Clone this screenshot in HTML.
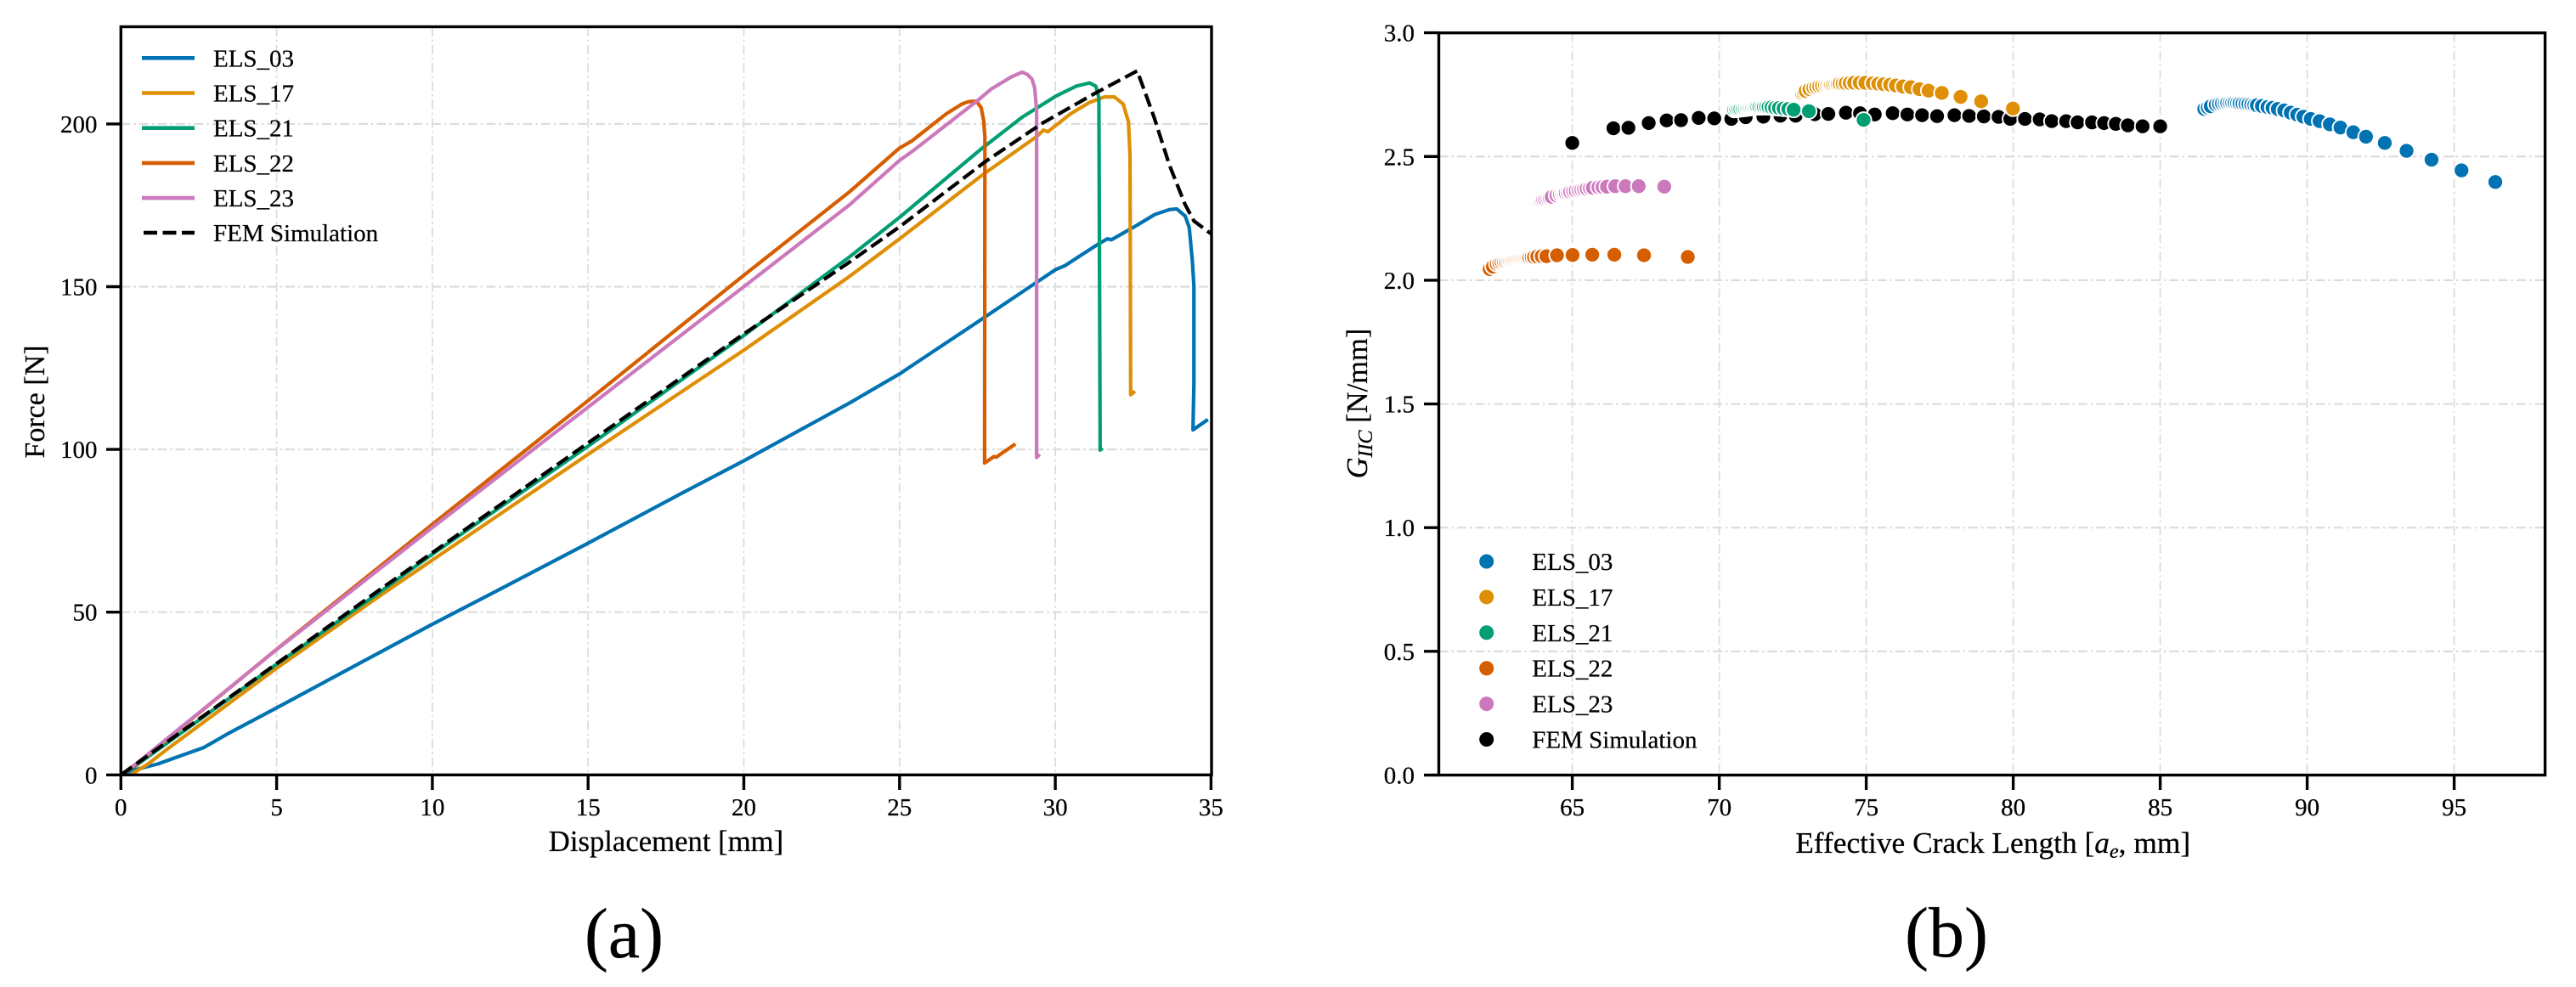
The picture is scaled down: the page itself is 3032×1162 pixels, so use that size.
<!DOCTYPE html>
<html>
<head>
<meta charset="utf-8">
<title>ELS force-displacement and fracture toughness</title>
<style>
html,body{margin:0;padding:0;background:#fff;}
svg{display:block;}
text{font-family:"Liberation Serif",serif;fill:#000;stroke:#000;stroke-width:0.25px;}
</style>
</head>
<body>
<svg id="fig" xmlns="http://www.w3.org/2000/svg" width="3032" height="1162" viewBox="0 0 3032 1162">
<rect x="0" y="0" width="3032" height="1162" fill="#fff"/>
<defs>
<clipPath id="clipA"><rect x="142.3" y="31.5" width="1284" height="881"/></clipPath>
<clipPath id="clipB"><rect x="1693.5" y="38.7" width="1302" height="874"/></clipPath>
</defs>
<g id="panelA"></g>
<g id="panelB"></g>
<text x="52" y="473" font-size="34" text-anchor="middle" transform="rotate(-90 52 473)">Force [N]</text>
<text x="784" y="1002" font-size="34.7" text-anchor="middle">Displacement [mm]</text>
<text x="1609" y="475" font-size="34.5" text-anchor="middle" transform="rotate(-90 1609 475)"><tspan font-style="italic">G</tspan><tspan font-style="italic" font-size="24" dy="6">IIC</tspan><tspan dy="-6"> [N/mm]</tspan></text>
<text x="2345.7" y="1004" font-size="35.4" text-anchor="middle">Effective Crack Length [<tspan font-style="italic">a</tspan><tspan font-style="italic" font-size="24" dy="6">e</tspan><tspan dy="-6">, mm]</tspan></text>
<text x="734.5" y="1127" font-size="84" text-anchor="middle">(a)</text>
<text x="2291" y="1126" font-size="84" text-anchor="middle">(b)</text>
</svg>
<script>
// Chart A tick labels and data
const dispTicks = [0, 5, 10, 15, 20, 25, 30, 35];
const forceTicks = [0, 50, 100, 150, 200];
const seriesNames = ["ELS_03", "ELS_17", "ELS_21", "ELS_22", "ELS_23"];
const femName = "FEM Simulation";

const els03Disp = [0,0.3,0.71,1.2,1.69,2.66,3.5,5,7,10,11.84,15,18,20,23.4,25,25.5,27.67,29.3,30,30.3,31.4,31.67,31.8,32.5,33.2,33.67,33.9,34.17,34.3,34.4,34.45,34.45,34.42,34.9];
const els03Force = [0,1.2,2.2,3.4,5.1,8.4,13,20.6,30.9,46.3,55.4,71.2,86.5,96.5,114.3,123.2,126.4,140.2,150.7,155.2,156.4,163.2,164.7,164.4,168.2,172.2,173.7,173.9,171.7,168.2,158,150.2,120,106,109.2];

const els17Disp = [0.3,0.85,1.5,5,8.37,12,15,20,23.4,25,27.67,29.4,29.62,29.76,30.49,31.1,31.58,31.9,32.18,32.35,32.4,32.42,32.56];
const els17Force = [0,3.2,8,32.8,55.4,79,98.5,130.5,153.2,164.7,184.4,196.1,198.1,197.6,203.1,206.6,208.3,208.3,206.1,200.6,190.1,116.8,117.9];

const els21Disp = [0,0.5,5,8.2,10,15,20,23.4,25,27.62,28.94,30.03,30.67,31.1,31.3,31.4,31.44,31.52];
const els21Force = [0,3,34,55.4,67.8,101,135,159.2,171.3,192.3,202.1,208.6,211.6,212.6,211.6,208,99.8,100.4];

const els22Disp = [0,0.5,5,10,15,20,23.4,25,25.4,26.5,27,27.2,27.4,27.5,27.62,27.7,27.74,27.73,28.03,28.1,28.72];
const els22Force = [0,3.2,38.6,77,115,153.5,179.2,192.6,194.8,203.1,206.1,206.8,207,206.6,205,201,196,95.8,97.8,97.6,101.7];

const els23Disp = [0,0.5,5,10,15,20,23.4,25,25.4,27.56,27.94,28.58,28.94,29.1,29.25,29.34,29.4,29.4,29.5];
const els23Force = [0,3.5,38.5,76,113,150,175.2,188.8,191.5,207.6,210.7,214.4,215.9,215.2,213.8,211,204,97.5,98.5];

const femDisp = [0,5,8.09,15,20,23.4,25,27.75,29.6,31.2,32.63,33.17,33.67,34.17,34.45,34.95,35];
const femForce = [0,34.2,55.4,102,135.5,157.6,168.4,188.4,200.3,209,216.3,202.1,187.2,175.2,170.2,166.6,166.3];

// Chart B tick labels and data
const crackTicks = [65, 70, 75, 80, 85, 90, 95];
const giicTicks = ["0.0", "0.5", "1.0", "1.5", "2.0", "2.5", "3.0"];

const els03Crack = [86.5,86.62,86.72,86.89,87.0,87.1,87.2,87.28,87.37,87.45,87.53,87.62,87.7,87.8,87.9,88.0,88.1,88.2,88.29,88.46,88.65,88.82,89.0,89.22,89.44,89.66,89.87,90.12,90.42,90.77,91.13,91.57,92.0,92.64,93.38,94.23,95.25,96.4];
const els03Giic = [2.692,2.698,2.703,2.71,2.713,2.715,2.716,2.717,2.717,2.717,2.717,2.716,2.715,2.714,2.713,2.712,2.71,2.708,2.707,2.704,2.70,2.697,2.692,2.686,2.677,2.669,2.661,2.652,2.643,2.63,2.617,2.598,2.58,2.555,2.523,2.487,2.444,2.397];

const els17Crack = [72.82,72.88,72.94,73.07,73.2,73.3,73.4,73.5,73.6,73.68,73.75,73.81,73.88,73.96,74.03,74.1,74.2,74.3,74.44,74.59,74.78,74.97,75.22,75.41,75.6,75.81,76.01,76.25,76.52,76.81,77.12,77.57,78.21,78.91,79.99];
const els17Giic = [2.755,2.76,2.765,2.772,2.778,2.781,2.784,2.786,2.788,2.789,2.79,2.79,2.792,2.793,2.794,2.795,2.795,2.796,2.797,2.798,2.798,2.798,2.796,2.794,2.792,2.79,2.787,2.783,2.78,2.772,2.766,2.757,2.741,2.723,2.694];

const els21Crack = [70.51,70.58,70.65,70.72,70.8,70.87,70.94,71.0,71.06,71.12,71.18,71.24,71.3,71.37,71.45,71.52,71.6,71.68,71.78,71.9,72.03,72.19,72.35,72.53,73.05,74.91];
const els21Giic = [2.689,2.69,2.691,2.692,2.693,2.694,2.695,2.696,2.697,2.698,2.699,2.70,2.70,2.70,2.70,2.70,2.70,2.70,2.699,2.697,2.696,2.694,2.692,2.689,2.683,2.648];

const els22Crack = [62.19,62.3,62.43,62.52,62.6,62.68,62.75,62.82,62.88,62.94,63.0,63.06,63.12,63.18,63.24,63.3,63.36,63.42,63.48,63.54,63.62,63.7,63.81,63.96,64.12,64.48,65.01,65.68,66.43,67.44,68.93];
const els22Giic = [2.045,2.055,2.066,2.07,2.073,2.075,2.077,2.08,2.081,2.083,2.084,2.086,2.087,2.088,2.089,2.089,2.09,2.091,2.091,2.092,2.093,2.094,2.096,2.097,2.097,2.101,2.102,2.103,2.103,2.101,2.094];

const els23Crack = [63.75,63.8,63.85,63.9,63.95,64.01,64.08,64.16,64.23,64.3,64.46,64.58,64.66,64.72,64.78,64.86,64.93,65.03,65.12,65.22,65.31,65.4,65.49,65.6,65.7,65.89,66.03,66.18,66.46,66.81,67.26,68.13];
const els23Giic = [2.314,2.316,2.318,2.321,2.323,2.326,2.328,2.331,2.334,2.337,2.343,2.347,2.349,2.351,2.353,2.355,2.357,2.36,2.362,2.364,2.366,2.368,2.37,2.372,2.374,2.376,2.377,2.378,2.38,2.38,2.38,2.378];

const femCrack = [65.0,66.4,66.91,67.6,68.21,68.7,69.3,69.83,70.41,70.9,71.5,72.08,72.6,73.25,73.71,74.31,74.79,75.29,75.9,76.4,76.9,77.41,78.0,78.5,79.0,79.5,79.9,80.4,80.9,81.31,81.8,82.19,82.68,83.09,83.49,83.9,84.4,85.0];
const femGiic = [2.555,2.614,2.616,2.635,2.646,2.647,2.656,2.654,2.652,2.659,2.661,2.665,2.665,2.671,2.672,2.677,2.675,2.67,2.675,2.67,2.667,2.663,2.667,2.664,2.662,2.66,2.652,2.652,2.65,2.643,2.643,2.638,2.638,2.635,2.632,2.626,2.622,2.622];

// Axis functions
function xA(v){ return 142.3 + v * 36.66; }
function yA(v){ return 912.3 - v * 3.832; }
function xB(v){ return 1850.6 + (v - 65) * 34.6; }
function yB(v){ return 912.5 - v * 291.3; }

const NS = "http://www.w3.org/2000/svg";
const colors = ["#0173b2", "#de8f05", "#029e73", "#d55e00", "#cc78bc"];
const GRID = "#dcdcdc";
const panelA = document.getElementById("panelA");
const panelB = document.getElementById("panelB");

function mk(parent, tag, attrs, txt){
  const el = document.createElementNS(NS, tag);
  for (const k in attrs) el.setAttribute(k, attrs[k]);
  if (txt !== undefined) el.textContent = txt;
  parent.appendChild(el);
  return el;
}
function gridLine(parent, x1, y1, x2, y2, w){
  const el = mk(parent, "line", {x1:x1, y1:y1, x2:x2, y2:y2, stroke:GRID, "stroke-width":w, "stroke-dasharray":"11 4 2.5 4"});
  
  
}
function tickMark(parent, x1, y1, x2, y2){
  const el = mk(parent, "line", {x1:x1, y1:y1, x2:x2, y2:y2, stroke:"#000", "stroke-width":3.4});
  
  
}
function tickLabel(parent, x, y, anchor, s){
  const el = mk(parent, "text", {x:x, y:y, "font-size":29, "text-anchor":anchor}, s);
  
  
}
function spines(parent, l, t, r, b){
  const el = mk(parent, "rect", {x:l, y:t, width:r-l, height:b-t, fill:"none", stroke:"#000", "stroke-width":3.4});
  
  
}
function legendLabel(parent, x, y, s){
  const el = mk(parent, "text", {x:x, y:y, "font-size":29}, s);
  
  
}
function curve(parent, xs, ys, color, dash){
  const pts = xs.map((v, i) => xA(v).toFixed(2) + "," + yA(ys[i]).toFixed(2)).join(" ");
  const attrs = {points:pts, fill:"none", stroke:color, "stroke-width":4.2, "stroke-linejoin":"round", "clip-path":"url(#clipA)"};
  if (dash) attrs["stroke-dasharray"] = dash;
  const el = mk(parent, "polyline", attrs);
  
  
}
function dots(parent, xs, ys, color){
  xs.forEach((v, i) => {
    const el = mk(parent, "circle", {cx:xB(v).toFixed(2), cy:yB(ys[i]).toFixed(2), r:9.1, fill:color, stroke:"#fff", "stroke-width":1.9});
    
    
  });
}

// Panel A
dispTicks.forEach(v => {
  if (v > 0 && v < 35) gridLine(panelA, xA(v), 31.5, xA(v), 912.3, 1.8);
  tickMark(panelA, xA(v), 912.3, xA(v), 930);
  tickLabel(panelA, xA(v), 960, "middle", String(v));
});
forceTicks.forEach(v => {
  if (v > 0) gridLine(panelA, 142.3, yA(v), 1426, yA(v), 2.2);
  tickMark(panelA, 125, yA(v), 142.3, yA(v));
  tickLabel(panelA, 114.5, yA(v) + 10, "end", String(v));
});
curve(panelA, els03Disp, els03Force, colors[0]);
curve(panelA, els17Disp, els17Force, colors[1]);
curve(panelA, els21Disp, els21Force, colors[2]);
curve(panelA, els22Disp, els22Force, colors[3]);
curve(panelA, els23Disp, els23Force, colors[4]);
curve(panelA, femDisp, femForce, "#000", "16 6.5");
spines(panelA, 142.3, 31.5, 1426, 912.3);

seriesNames.forEach((s, i) => {
  const y = 68.3 + i * 41.2;
  const el = mk(panelA, "line", {x1:167, y1:y, x2:229, y2:y, stroke:colors[i], "stroke-width":4.6});
  
  
  legendLabel(panelA, 251, y + 10, s);
});
const femKey = mk(panelA, "line", {x1:169, y1:274, x2:229, y2:274, stroke:"#000", "stroke-width":4.6, "stroke-dasharray":"16 6.5"});


legendLabel(panelA, 251, 284, femName);

// Panel B
crackTicks.forEach(v => {
  gridLine(panelB, xB(v), 38.7, xB(v), 912.5, 1.8);
  tickMark(panelB, xB(v), 912.5, xB(v), 930);
  tickLabel(panelB, xB(v), 960, "middle", String(v));
});
giicTicks.forEach(s => {
  const v = parseFloat(s);
  if (v > 0 && v < 3) gridLine(panelB, 1693.5, yB(v), 2995.6, yB(v), 2.2);
  tickMark(panelB, 1676, yB(v), 1693.5, yB(v));
  tickLabel(panelB, 1665, yB(v) + 10, "end", s);
});
dots(panelB, femCrack, femGiic, "#000");
dots(panelB, els03Crack, els03Giic, colors[0]);
dots(panelB, els17Crack, els17Giic, colors[1]);
dots(panelB, els21Crack, els21Giic, colors[2]);
dots(panelB, els22Crack, els22Giic, colors[3]);
dots(panelB, els23Crack, els23Giic, colors[4]);
spines(panelB, 1693.5, 38.7, 2995.6, 912.5);

seriesNames.concat([femName]).forEach((s, i) => {
  const y = 661 + i * 41.9;
  const el = mk(panelB, "circle", {cx:1749.7, cy:y, r:9.1, fill:i < 5 ? colors[i] : "#000", stroke:"#fff", "stroke-width":1.2});
  
  
  legendLabel(panelB, 1803.3, y + 10, s);
});
</script>
</body>
</html>
